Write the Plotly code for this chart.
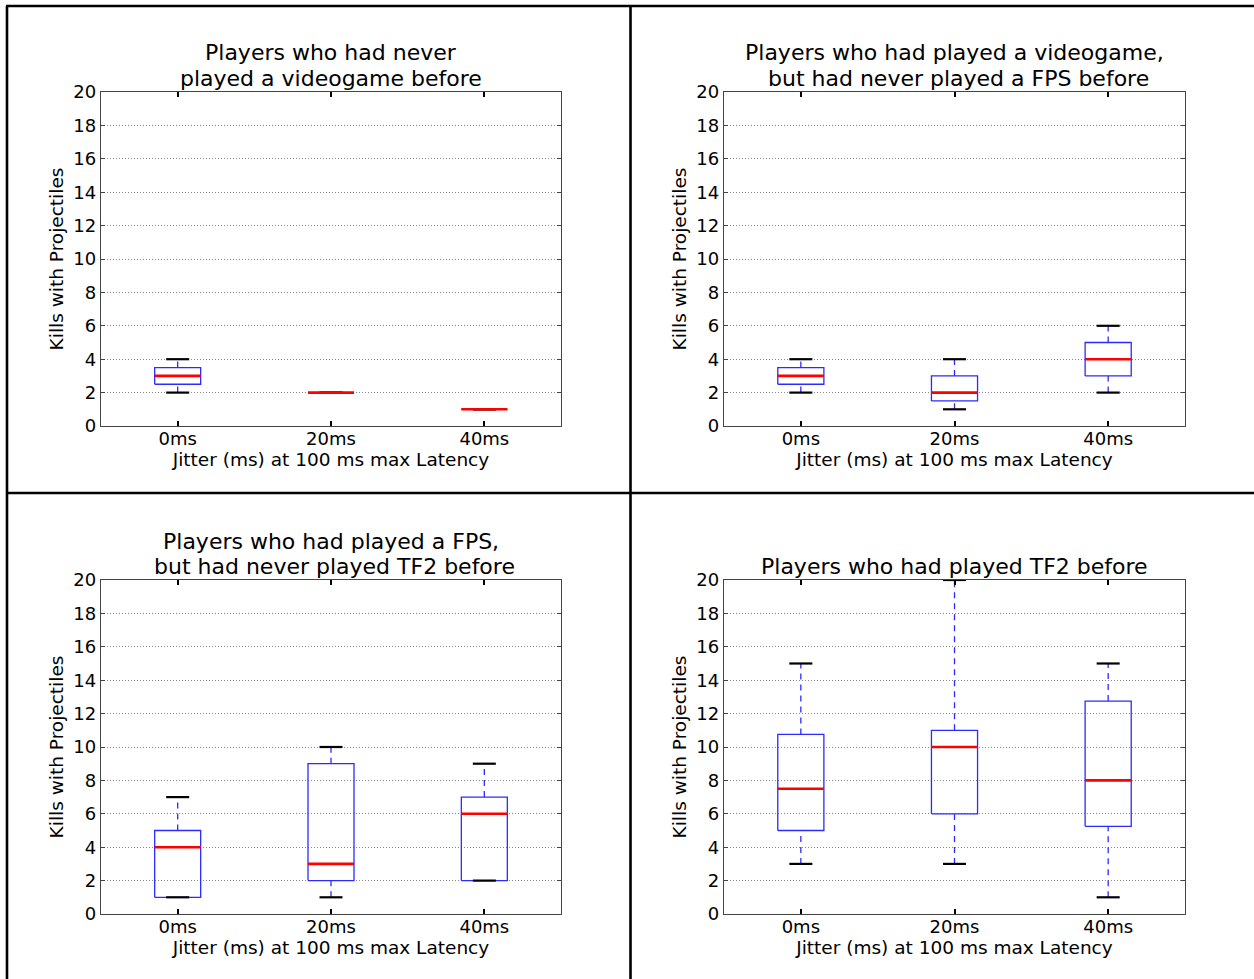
import plotly.graph_objects as go

# ---------------- data ----------------
categories = ["0ms", "20ms", "40ms"]
positions = [1, 2, 3]

titles = [
    ["Players who had never", "played a videogame before"],
    ["Players who had played a videogame,", " but had never played a FPS before"],
    ["Players who had played a FPS,", " but had never played TF2 before"],
    ["Players who had played TF2 before"],
]

# panel 1
p1_low = [2, 2, 1]
p1_q1 = [2.5, 2, 1]
p1_med = [3, 2, 1]
p1_q3 = [3.5, 2, 1]
p1_high = [4, 2, 1]
# panel 2
p2_low = [2, 1, 2]
p2_q1 = [2.5, 1.5, 3]
p2_med = [3, 2, 4]
p2_q3 = [3.5, 3, 5]
p2_high = [4, 4, 6]
# panel 3
p3_low = [1, 1, 2]
p3_q1 = [1, 2, 2]
p3_med = [4, 3, 6]
p3_q3 = [5, 9, 7]
p3_high = [7, 10, 9]
# panel 4
p4_low = [3, 3, 1]
p4_q1 = [5, 6, 5.25]
p4_med = [7.5, 10, 8]
p4_q3 = [10.75, 11, 12.75]
p4_high = [15, 20, 15]

panels = [
    (p1_low, p1_q1, p1_med, p1_q3, p1_high),
    (p2_low, p2_q1, p2_med, p2_q3, p2_high),
    (p3_low, p3_q1, p3_med, p3_q3, p3_high),
    (p4_low, p4_q1, p4_med, p4_q3, p4_high),
]

x_title = "Jitter (ms) at 100 ms max Latency"
y_title = "Kills with Projectiles"

# ---------------- layout geometry ----------------
W, H = 1254, 979
BOX_HALF = 0.15
CAP_HALF = 0.075
FONT = "DejaVu Sans"
TICK_SIZE = 18
LABEL_SIZE = 18.5
TITLE_SIZE = 22
TITLE_LINE = 25  # px between title lines


def px_x(p):
    return p / W


def px_y(p):
    return 1 - p / H


# pixel boxes (left, right, top, bottom)
axes_px = [
    (101, 561, 92, 426),
    (724, 1185, 92, 426),
    (101, 561, 580, 914),
    (724, 1185, 580, 914),
]

fig = go.Figure()

for i, (low, q1, med, q3, high) in enumerate(panels):
    xa = "x" if i == 0 else f"x{i+1}"
    ya = "y" if i == 0 else f"y{i+1}"

    # box outlines
    bx, by = [], []
    for c, a, b in zip(positions, q1, q3):
        bx += [c - BOX_HALF, c + BOX_HALF, c + BOX_HALF, c - BOX_HALF, c - BOX_HALF, None]
        by += [a, a, b, b, a, None]
    fig.add_trace(go.Scatter(x=bx, y=by, mode="lines", xaxis=xa, yaxis=ya,
                             line=dict(color="#2b2bff", width=1.3),
                             hoverinfo="skip", showlegend=False))
    # whiskers
    wx, wy = [], []
    for c, lo, a, b, hi in zip(positions, low, q1, q3, high):
        wx += [c, c, None, c, c, None]
        wy += [lo, a, None, b, hi, None]
    fig.add_trace(go.Scatter(x=wx, y=wy, mode="lines", xaxis=xa, yaxis=ya,
                             line=dict(color="#2b2bff", width=1.3, dash="6px,5px"),
                             hoverinfo="skip", showlegend=False))
    # caps
    cx, cy = [], []
    for c, lo, hi in zip(positions, low, high):
        cx += [c - CAP_HALF, c + CAP_HALF, None, c - CAP_HALF, c + CAP_HALF, None]
        cy += [lo, lo, None, hi, hi, None]
    fig.add_trace(go.Scatter(x=cx, y=cy, mode="lines", xaxis=xa, yaxis=ya,
                             line=dict(color="black", width=2.2),
                             hoverinfo="skip", showlegend=False))
    # medians
    mx, my = [], []
    for c, m in zip(positions, med):
        mx += [c - BOX_HALF, c + BOX_HALF, None]
        my += [m, m, None]
    fig.add_trace(go.Scatter(x=mx, y=my, mode="lines", xaxis=xa, yaxis=ya,
                             line=dict(color="#ff0000", width=2.6),
                             hoverinfo="skip", showlegend=False))

layout = dict(
    template="none",
    width=W, height=H, autosize=False,
    margin=dict(l=0, r=0, t=0, b=0, pad=0),
    paper_bgcolor="white", plot_bgcolor="white",
    font=dict(family=FONT, color="black", size=TICK_SIZE),
    showlegend=False,
)

annotations = []
for i, (l, r, t, b) in enumerate(axes_px):
    sfx = "" if i == 0 else str(i + 1)
    layout["xaxis" + sfx] = dict(
        domain=[px_x(l), px_x(r)], anchor="y" + sfx, automargin=False,
        range=[0.5, 3.5], tickvals=positions, ticktext=categories,
        showgrid=False, zeroline=False,
        showline=True, linecolor="#444", linewidth=1.3, mirror="allticks",
        ticks="inside", ticklen=5, tickwidth=1.5, tickcolor="black",
        ticklabelstandoff=-4,
        tickfont=dict(family=FONT, size=TICK_SIZE),
        title=dict(text=x_title, font=dict(family=FONT, size=LABEL_SIZE), standoff=4),
    )
    layout["yaxis" + sfx] = dict(
        domain=[px_y(b), px_y(t)], anchor="x" + sfx, automargin=False,
        range=[0, 20], dtick=2, tick0=0,
        showgrid=True, gridcolor="#8a8a8a", griddash="1px,2px", gridwidth=1,
        zeroline=False,
        showline=True, linecolor="#444", linewidth=1.3, mirror="allticks",
        ticks="inside", ticklen=4, tickwidth=1, tickcolor="#444",
        tickfont=dict(family=FONT, size=TICK_SIZE),
        title=dict(text=y_title, font=dict(family=FONT, size=LABEL_SIZE), standoff=4),
    )
    lines = titles[i]
    n = len(lines)
    for k, line in enumerate(lines):
        center_px = t - 14 - (n - 1 - k) * TITLE_LINE
        annotations.append(dict(
            text=line, xref="paper", yref="paper",
            x=(px_x(l) + px_x(r)) / 2, y=px_y(center_px),
            xanchor="center", yanchor="middle", showarrow=False,
            font=dict(family=FONT, size=TITLE_SIZE, color="black"),
        ))
layout["annotations"] = annotations

# cell divider frame
shapes = []
lw = 2.6
shapes.append(dict(type="line", xref="paper", yref="paper", x0=px_x(6), x1=1, y0=px_y(6), y1=px_y(6), line=dict(color="black", width=lw)))
shapes.append(dict(type="line", xref="paper", yref="paper", x0=px_x(7), x1=px_x(7), y0=px_y(6), y1=0, line=dict(color="black", width=lw)))
shapes.append(dict(type="line", xref="paper", yref="paper", x0=px_x(630.5), x1=px_x(630.5), y0=px_y(6), y1=0, line=dict(color="black", width=lw)))
shapes.append(dict(type="line", xref="paper", yref="paper", x0=px_x(6), x1=1, y0=px_y(493), y1=px_y(493), line=dict(color="black", width=lw)))
layout["shapes"] = shapes

fig.update_layout(**layout)
fig.write_html(
    "out.html",
    config={"displayModeBar": False},
    post_script="document.body.style.margin='0';document.body.style.padding='0';document.body.style.overflow='hidden';",
)
